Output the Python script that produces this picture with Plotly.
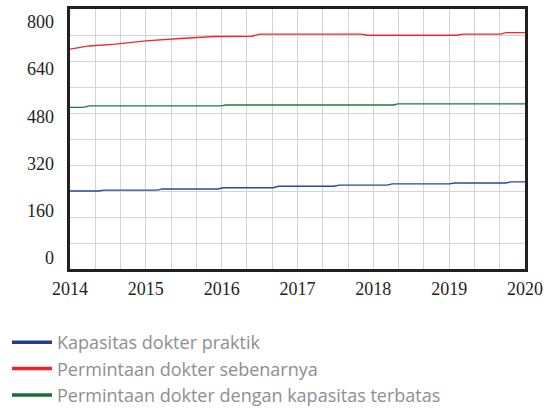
import plotly.graph_objects as go

# Data (decimal years, values)
blue_x = [2014.0, 2014.38, 2014.45, 2015.15, 2015.22, 2015.95, 2016.02, 2016.68, 2016.75,
          2017.48, 2017.55, 2018.18, 2018.25, 2019.0, 2019.07, 2019.75, 2019.82, 2020.0]
blue_y = [264, 264, 267, 267, 271, 271, 275, 275, 280,
          280, 284, 284, 288, 288, 291, 291, 295, 295]

red_x = [2014.0, 2014.25, 2014.6, 2015.0, 2015.45, 2015.9, 2016.4, 2016.5,
         2017.85, 2017.92, 2019.1, 2019.17, 2019.68, 2019.75, 2020.0]
red_y = [744, 755, 761, 772, 780, 787, 788, 795,
         795, 791, 791, 795, 795, 800, 800]

green_x = [2014.0, 2014.17, 2014.26, 2016.0, 2016.05, 2018.27, 2018.32, 2020.0]
green_y = [547, 547, 552, 552, 555, 555, 559, 559]

series_names = ["Kapasitas dokter praktik", "Permintaan dokter sebenarnya",
                "Permintaan dokter dengan kapasitas terbatas"]
line_colors = ["#2b46a0", "#ee2a2d", "#1d7a3e"]
legend_colors = ["#233c8f", "#ee2229", "#1b6d35"]

y_tick_vals = [0, 160, 320, 480, 640, 800]
x_tick_years = [2014, 2015, 2016, 2017, 2018, 2019, 2020]

fig = go.Figure()
for xs, ys, name, col in zip([blue_x, red_x, green_x], [blue_y, red_y, green_y],
                             series_names, line_colors):
    fig.add_trace(go.Scatter(x=xs, y=ys, mode="lines", name=name, showlegend=False,
                             line=dict(color=col, width=1.4)))

# legend entries (thicker key lines, as in the reference)
for i, (name, col) in enumerate(zip(series_names, legend_colors)):
    fig.add_trace(go.Scatter(x=[None], y=[None], mode="lines", name=name,
                             line=dict(color=col, width=3.5), hoverinfo="skip"))

# invisible trace to carry the offset label axis
fig.add_trace(go.Scatter(x=[2014], y=[0], yaxis="y2", mode="markers",
                         marker=dict(opacity=0), showlegend=False, hoverinfo="skip"))

# x grid every 4 months, labels on whole years
x_vals = [2014 + i / 3 for i in range(19)]
x_text = [str(round(v)) if abs(v - round(v)) < 1e-6 else "" for v in x_vals]

fig.update_layout(
    width=546, height=408,
    margin=dict(l=70, r=21, t=9, b=139, autoexpand=False),
    paper_bgcolor="white", plot_bgcolor="white",
    xaxis=dict(range=[2014, 2020], tickvals=x_vals, ticktext=x_text,
               showgrid=True, gridcolor="#d4d4d4", gridwidth=1.3,
               showline=True, linecolor="#231f20", linewidth=2.5, mirror=True,
               ticks="", ticklabelstandoff=2,
               tickfont=dict(family="Liberation Serif", size=18, color="#231f20"),
               zeroline=False),
    yaxis=dict(range=[0, 880], dtick=88, tick0=0, showticklabels=False,
               showgrid=True, gridcolor="#d4d4d4", gridwidth=1.3,
               showline=True, linecolor="#231f20", linewidth=2.5, mirror=True,
               ticks="", zeroline=False),
    yaxis2=dict(range=[-37, 843], overlaying="y", side="left",
                tickvals=y_tick_vals, ticktext=[str(v) for v in y_tick_vals],
                showgrid=False, showline=False, zeroline=False, ticks="",
                ticklabelstandoff=15,
                tickfont=dict(family="Liberation Serif", size=18, color="#231f20")),
    legend=dict(x=-0.1385, y=-0.2115, xanchor="left", yanchor="top",
                orientation="v", tracegroupgap=0, itemwidth=40,
                font=dict(family="Open Sans", size=18, color="#8d8f92"),
                bgcolor="rgba(0,0,0,0)"),
    showlegend=True,
)

fig.write_html("out.html", config={"displayModeBar": False},
               post_script="document.body.style.margin='0';document.body.style.padding='0';")
